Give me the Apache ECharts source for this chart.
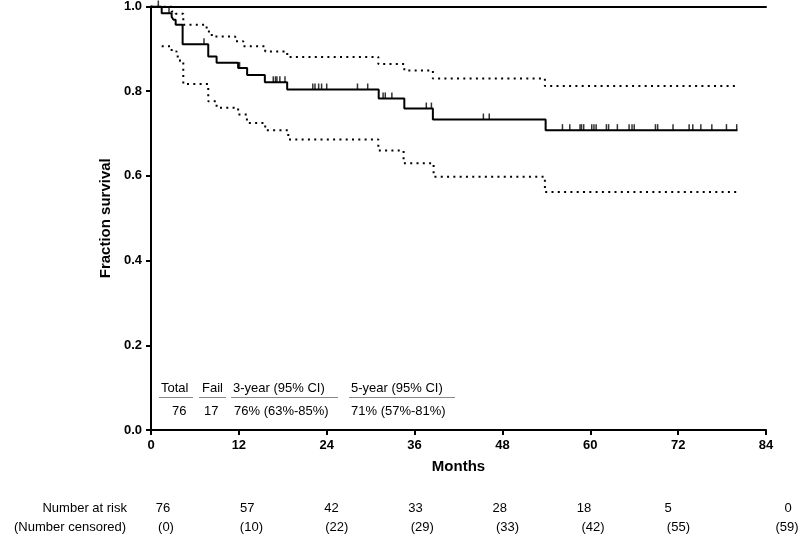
<!DOCTYPE html>
<html>
<head>
<meta charset="utf-8">
<script src="https://cdn.jsdelivr.net/npm/echarts@6/dist/echarts.min.js"></script>
<style>
html,body{margin:0;padding:0;background:#fff;}
#c{width:800px;height:535px;}
</style>
</head>
<body>
<div id="c"></div>
<script>
// Kaplan-Meier estimate (months, fraction surviving)
var kmTimes = [0, 1.46, 2.82, 3.05, 3.37, 4.32, 7.82, 8.96, 11.9, 13.13, 15.55, 18.6, 31.1, 34.6, 38.5, 53.9, 80.1];
var kmSurv  = [1.0, 0.984, 0.976, 0.969, 0.957, 0.911, 0.882, 0.867, 0.855, 0.838, 0.821, 0.804, 0.783, 0.759, 0.733, 0.708, 0.708];
// Upper 95% CI
var upTimes = [0, 2.82, 3.37, 4.41, 7.6, 8.3, 11.5, 12.6, 15.6, 18.3, 18.8, 31.05, 34.6, 38.5, 53.8, 80.1];
var upSurv  = [1.0, 0.988, 0.983, 0.957, 0.941, 0.929, 0.918, 0.906, 0.894, 0.888, 0.881, 0.864, 0.849, 0.830, 0.812, 0.812];
// Lower 95% CI
var loTimes = [1.46, 2.82, 3.5, 3.96, 4.41, 7.82, 8.96, 11.9, 13.1, 15.6, 18.75, 31.05, 34.5, 38.6, 53.8, 80.1];
var loSurv  = [0.906, 0.894, 0.882, 0.871, 0.817, 0.776, 0.761, 0.745, 0.725, 0.708, 0.686, 0.660, 0.630, 0.598, 0.562, 0.562];
// Censoring times (months)
var censorTimes = [1.0, 2.46, 7.24, 12.1, 16.7, 17.0, 17.2, 17.6, 18.3, 22.1, 22.4, 22.9, 23.3, 24.0, 28.2, 29.6, 31.7, 32.0, 32.9, 37.6, 38.3, 45.4, 46.2,
  56.2, 57.2, 58.6, 58.8, 59.1, 60.2, 60.5, 60.8, 62.2, 62.5, 63.7, 65.3, 65.7, 66.0, 68.9, 69.2, 71.3, 73.5, 74.0, 75.1, 76.6, 78.6, 80.0];
// Risk table
var atRisk = [76, 57, 42, 33, 28, 18, 5, 0];
var censored = [0, 10, 22, 29, 33, 42, 55, 59];
// Summary table
var sumHeader = ['Total', 'Fail', '3-year (95% CI)', '5-year (95% CI)'];
var sumValues = ['76', '17', '76% (63%-85%)', '71% (57%-81%)'];

function zip(t, s) { return t.map(function (v, i) { return [v, s[i]]; }); }
function survAt(t) {
  var s = kmSurv[0];
  for (var i = 0; i < kmTimes.length; i++) { if (kmTimes[i] <= t) s = kmSurv[i]; }
  return s;
}

var FONT = 'Liberation Sans, Arial, sans-serif';
var chart = echarts.init(document.getElementById('c'));
var option = {
  backgroundColor: '#fff',
  animation: false,
  grid: { left: 151, right: 34, top: 5, bottom: 105 },
  xAxis: [{
    type: 'value', min: 0, max: 84, interval: 12,
    name: 'Months', nameLocation: 'middle', nameGap: 29,
    nameTextStyle: { fontFamily: FONT, fontSize: 15, fontWeight: 'bold', color: '#000' },
    axisLine: { show: true, lineStyle: { color: '#000', width: 2 } },
    axisTick: { show: true, length: 5, lineStyle: { color: '#000', width: 2 } },
    axisLabel: { margin: 9, fontFamily: FONT, fontSize: 13, fontWeight: 'bold', color: '#000' },
    splitLine: { show: false }
  }, {
    type: 'value', min: 0, max: 84, interval: 12, position: 'top',
    axisLine: { show: true, onZero: false, lineStyle: { color: '#000', width: 2 } },
    axisTick: { show: false }, axisLabel: { show: false }, splitLine: { show: false }
  }],
  yAxis: {
    type: 'value', min: 0, max: 1, interval: 0.2,
    name: 'Fraction survival', nameLocation: 'middle', nameGap: 26,
    nameTextStyle: { fontFamily: FONT, fontSize: 15, fontWeight: 'bold', color: '#000' },
    axisLine: { show: true, lineStyle: { color: '#000', width: 2 } },
    axisTick: { show: true, length: 5, lineStyle: { color: '#000', width: 2 } },
    axisLabel: { margin: 9, fontFamily: FONT, fontSize: 13, fontWeight: 'bold', color: '#000',
      formatter: function (v) { return v.toFixed(1); } },
    splitLine: { show: false }
  },
  series: [
    { type: 'line', step: 'end', data: zip(upTimes, upSurv), showSymbol: false, symbol: 'none',
      lineStyle: { color: '#000', width: 2, type: [2, 4.3], cap: 'butt' }, z: 2 },
    { type: 'line', step: 'end', data: zip(loTimes, loSurv), showSymbol: false, symbol: 'none',
      lineStyle: { color: '#000', width: 2, type: [2, 4.3], cap: 'butt' }, z: 2 },
    { type: 'line', step: 'end', data: zip(kmTimes, kmSurv), showSymbol: false, symbol: 'none',
      lineStyle: { color: '#000', width: 2 }, z: 3 },
    { type: 'scatter', data: censorTimes.map(function (t) { return [t, survAt(t)]; }),
      symbol: 'rect', symbolSize: [1.5, 6], symbolOffset: [0, -3],
      itemStyle: { color: '#000' }, z: 4 }
  ]
};
chart.setOption(option);

// Text tables (layout only)
var g = [];
var headX = [161, 202, 233, 351];
var valX = [172, 204, 234, 351];
sumHeader.forEach(function (h, i) {
  g.push({ type: 'text', left: headX[i], top: 382, style: { text: h, font: '13px ' + FONT, fill: '#000' } });
});
var ulines = [[159, 193], [199, 226], [231, 338], [349, 455]];
ulines.forEach(function (u) {
  g.push({ type: 'line', shape: { x1: u[0], y1: 397.5, x2: u[1], y2: 397.5 }, style: { stroke: '#888', lineWidth: 1 } });
});
sumValues.forEach(function (v, i) {
  g.push({ type: 'text', left: valX[i], top: 405, style: { text: v, font: '13px ' + FONT, fill: '#000' } });
});
g.push({ type: 'text', x: 127, y: 508, style: { text: 'Number at risk', font: '13px ' + FONT, fill: '#000', align: 'right', verticalAlign: 'middle' } });
g.push({ type: 'text', x: 126, y: 527, style: { text: '(Number censored)', font: '13px ' + FONT, fill: '#000', align: 'right', verticalAlign: 'middle' } });
atRisk.forEach(function (v, i) {
  var last = i === atRisk.length - 1;
  var xa = last ? 788 : 163 + i * 84.2;
  var xc = last ? 787 : 166 + i * 85.4;
  g.push({ type: 'text', x: xa, y: 508, style: { text: String(v), font: '13px ' + FONT, fill: '#000', align: 'center', verticalAlign: 'middle' } });
  g.push({ type: 'text', x: xc, y: 527, style: { text: '(' + censored[i] + ')', font: '13px ' + FONT, fill: '#000', align: 'center', verticalAlign: 'middle' } });
});
chart.setOption({ graphic: g });
</script>
</body>
</html>
